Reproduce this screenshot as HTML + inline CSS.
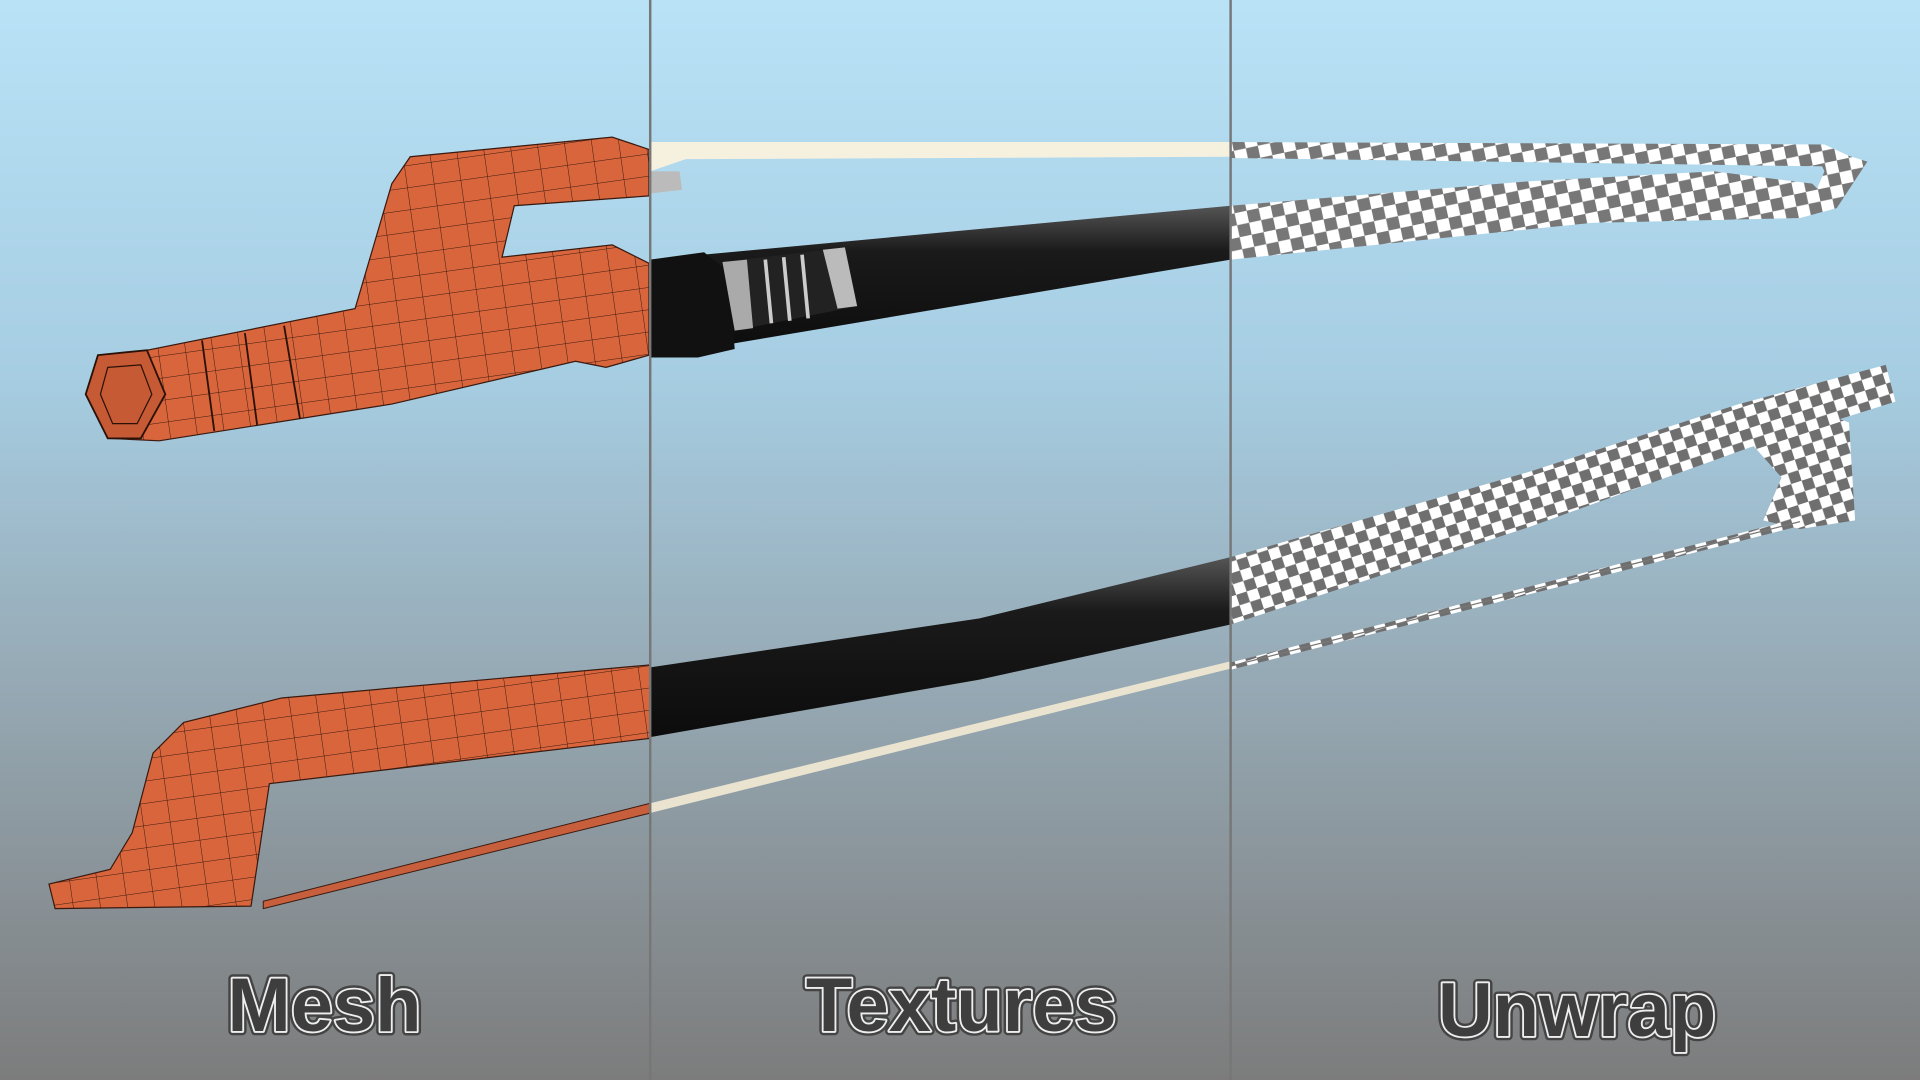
<!DOCTYPE html>
<html><head><meta charset="utf-8"><style>
html,body{margin:0;padding:0;width:1920px;height:1080px;overflow:hidden}
svg{display:block}
</style></head><body>
<svg width="1920" height="1080" viewBox="0 0 1568 882" preserveAspectRatio="none" xmlns="http://www.w3.org/2000/svg">
<defs>
<linearGradient id="bg" x1="0" y1="0" x2="0" y2="1">
<stop offset="0" stop-color="#b9e2f7"/>
<stop offset="0.35" stop-color="#a6cde2"/>
<stop offset="0.6" stop-color="#98adb9"/>
<stop offset="1" stop-color="#7c7c7c"/>
</linearGradient>
<pattern id="chk" width="20" height="20" patternUnits="userSpaceOnUse" patternTransform="rotate(-12)">
<rect width="20" height="20" fill="#fff"/>
<rect width="10" height="10" fill="#777"/>
<rect x="10" y="10" width="10" height="10" fill="#777"/>
</pattern>
<pattern id="chk2" width="18" height="18" patternUnits="userSpaceOnUse" patternTransform="rotate(-18)">
<rect width="18" height="18" fill="#fff"/>
<rect width="9" height="9" fill="#6f6f6f"/>
<rect x="9" y="9" width="9" height="9" fill="#6f6f6f"/>
</pattern>
<pattern id="grid" width="22" height="18" patternUnits="userSpaceOnUse" patternTransform="rotate(-8)">
<rect width="22" height="18" fill="#d8653b"/>
<path d="M0 0H22M0 0V18" stroke="#3a1a10" stroke-width="0.8" fill="none"/>
</pattern>
<linearGradient id="blk" x1="0" y1="0" x2="0" y2="1">
<stop offset="0" stop-color="#555"/><stop offset="0.3" stop-color="#1a1a1a"/><stop offset="1" stop-color="#0c0c0c"/>
</linearGradient>
</defs>
<rect width="1568" height="882" fill="url(#bg)"/>

<!-- TOP BOW -->
<polygon points="531,116 1005,116 1005,128 560,130 531,140" fill="#f6f1df"/>
<polygon points="1005,116 1490,118 1520,132 1500,136 1005,129" fill="url(#chk)"/>
<polygon points="1480,118 1525,132 1500,170 1478,168 1490,140" fill="url(#chk)"/>
<polygon points="1005,168 1250,148 1400,140 1480,150 1500,170 1470,178 1300,182 1005,212" fill="url(#chk)"/>
<polygon points="531,212 1005,168 1005,212 531,292" fill="url(#blk)"/>
<polygon points="531,212 575,206 595,222 600,285 570,292 531,292" fill="#111"/>
<polygon points="590,214 690,202 700,250 600,270" fill="#222"/>
<polygon points="590,214 610,212 615,268 600,270" fill="#aaa"/>
<polygon points="672,204 690,202 700,250 684,252" fill="#bbb"/>
<g stroke="#ccc" stroke-width="3"><line x1="625" y1="212" x2="630" y2="264"/><line x1="640" y1="210" x2="645" y2="262"/><line x1="655" y1="208" x2="660" y2="260"/></g>
<polygon points="531,140 555,140 557,155 531,158" fill="#bbb"/>
<polygon points="100,290 290,252 320,150 335,128 500,112 530,122 530,160 420,168 410,210 500,200 530,215 530,290 495,300 470,295 320,330 130,360 90,358 70,322 80,290" fill="url(#grid)" stroke="#3a1a10" stroke-width="1"/>
<polygon points="80,290 120,286 135,322 115,358 88,358 70,322" fill="#c65a34" stroke="#2a1208" stroke-width="1.5"/>
<polygon points="88,300 115,298 124,322 112,346 92,346 82,322" fill="none" stroke="#2a1208" stroke-width="1"/>
<g stroke="#2a1208" stroke-width="1.5"><line x1="165" y1="278" x2="175" y2="352"/><line x1="200" y1="272" x2="210" y2="347"/><line x1="232" y1="266" x2="245" y2="342"/></g>

<!-- BOTTOM BOW -->
<polygon points="1005,455 1250,385 1420,330 1540,298 1548,328 1430,365 1250,430 1005,510" fill="url(#chk2)"/>
<polygon points="1415,345 1470,330 1510,345 1515,425 1470,432 1440,425 1455,390" fill="url(#chk2)"/>
<polygon points="1005,541 1470,423 1472,429 1005,547" fill="url(#chk2)"/>
<line x1="1005" y1="544" x2="1470" y2="426" stroke="#777" stroke-width="1"/>
<polygon points="531,545 800,505 1005,455 1005,510 800,555 531,602" fill="url(#blk)"/>
<polygon points="531,656 1005,540 1005,546 531,664" fill="#e9e3d0"/>
<polygon points="230,570 531,543 531,603 220,640 205,740 45,742 40,722 90,710 108,680 125,615 150,590" fill="url(#grid)" stroke="#3a1a10" stroke-width="1"/>
<polygon points="215,736 531,656 531,664 215,742" fill="#c75e3c" stroke="#3a1a10" stroke-width="0.8"/>

<line x1="531" y1="0" x2="531" y2="882" stroke="#777" stroke-width="2"/>
<line x1="1005" y1="0" x2="1005" y2="882" stroke="#777" stroke-width="2"/>

<g font-family="Liberation Sans, sans-serif" font-weight="bold" font-size="62" text-anchor="middle">
<g fill="none" stroke="#444" stroke-width="7" stroke-linejoin="round">
<text x="265" y="842">Mesh</text>
<text x="785" y="842">Textures</text>
<text x="1288" y="846">Unwrap</text>
</g>
<g fill="#3e3e3e" stroke="#eee" stroke-width="3" stroke-linejoin="round" paint-order="stroke">
<text x="265" y="842">Mesh</text>
<text x="785" y="842">Textures</text>
<text x="1288" y="846">Unwrap</text>
</g>
</g>
</svg>
</body></html>
